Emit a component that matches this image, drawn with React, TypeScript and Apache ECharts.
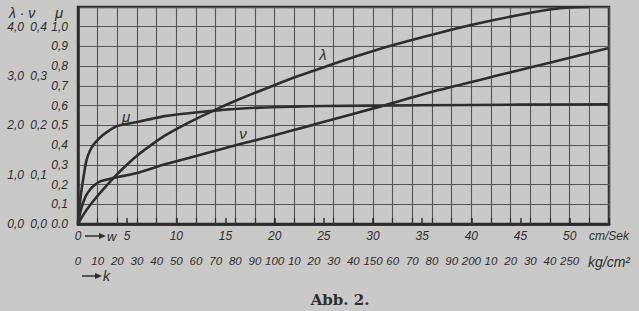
import React, { useEffect, useRef } from "react";
import * as echarts from "echarts";

// λ curve (w in cm/Sek, λ value)
const lambdaW = [0, 0.4, 0.85, 1.5, 2.2, 3.6, 4.7, 5.9, 7.5, 9, 11.5, 14.1, 16.5, 19.9, 22.4, 25, 28.3, 31.7, 36.8, 41, 45.9, 48, 50, 52];
const lambdaV = [0, 0.14, 0.28, 0.45, 0.62, 0.93, 1.15, 1.37, 1.61, 1.81, 2.08, 2.33, 2.54, 2.81, 3.0, 3.18, 3.4, 3.61, 3.88, 4.08, 4.28, 4.35, 4.39, 4.4];

// ν curve
const nuW = [0, 0.25, 0.5, 0.8, 1.2, 1.7, 2.2, 3.5, 5.9, 9, 12, 16.5, 20, 23.9, 30.7, 36.8, 43.9, 54];
const nuV = [0, 0.025, 0.042, 0.057, 0.069, 0.079, 0.086, 0.093, 0.103, 0.122, 0.138, 0.162, 0.18, 0.201, 0.238, 0.272, 0.307, 0.357];

// μ curve
const muW = [0, 0.15, 0.35, 0.6, 0.85, 1.2, 1.7, 2.5, 3.2, 3.9, 5, 5.9, 7.5, 9, 11, 13.4, 16, 18.5, 22, 25, 35, 45, 54];
const muV = [0, 0.09, 0.17, 0.25, 0.32, 0.37, 0.41, 0.45, 0.475, 0.495, 0.508, 0.516, 0.533, 0.548, 0.56, 0.572, 0.583, 0.59, 0.595, 0.598, 0.602, 0.605, 0.607];

// axes
const wMax = 54;
const wStep = 5;
const kMax = 270;
const kStep = 10;
const muMax = 1.1;
const lambdaMax = 4.4;
const nuMax = 0.44;
const wUnit = "cm/Sek";
const kUnit = "kg/cm²";
const title = "Abb. 2.";

const INK = "#2e2e2e";
const GRID = "#555555";
const BG = "#c9c9c7";
const FONT = "Liberation Sans";

const pairs = (xs: number[], ys: number[]) => xs.map((x, i) => [x, ys[i]]);
const comma = (v: number) => v.toFixed(1).replace(".", ",");

export default function App() {
  const ref = useRef<HTMLDivElement>(null);
  useEffect(() => {
    if (!ref.current) return;
    const chart = echarts.init(ref.current, null, { renderer: "svg" });
    const labelStyle = {
      fontFamily: FONT,
      fontStyle: "italic" as const,
      fontSize: 12,
      color: INK,
    };
    const lineStyle = { color: INK, width: 2.6 };
    const lineBase = {
      type: "line" as const,
      xAxisIndex: 0,
      smooth: 0.3,
      symbol: "none",
      lineStyle,
    };
    chart.setOption({
      animation: false,
      backgroundColor: BG,
      grid: {
        left: 78,
        top: 7,
        right: 30,
        bottom: 87,
        show: true,
        borderColor: INK,
        borderWidth: 2.5,
        backgroundColor: "transparent",
      },
      xAxis: [
        {
          type: "value",
          min: 0,
          max: wMax,
          interval: wStep,
          position: "bottom",
          axisLine: { show: true, lineStyle: { color: INK, width: 2.5 } },
          axisTick: { show: true, inside: true, length: 6, lineStyle: { color: INK, width: 1.5 } },
          splitLine: { show: false },
          axisLabel: {
            ...labelStyle,
            margin: 6,
            showMaxLabel: true,
            formatter: (v: number) =>
              v === wMax ? wUnit : Math.abs(v % wStep) < 1e-6 ? String(v) : "",
          },
        },
        {
          type: "value",
          min: 0,
          max: kMax,
          interval: kStep,
          position: "bottom",
          offset: 24,
          axisLine: { show: true, lineStyle: { color: INK, width: 2.5 } },
          axisTick: { show: true, inside: true, length: 6, lineStyle: { color: INK, width: 1.2 } },
          splitLine: { show: true, lineStyle: { color: GRID, width: 1.1 } },
          axisLabel: {
            ...labelStyle,
            fontSize: 11.5,
            margin: 7,
            showMaxLabel: true,
            formatter: (v: number) => {
              if (v === kMax) return "{u|" + kUnit + "}";
              if (v > 250) return "";
              if (v <= 100 || v % 50 === 0) return String(v);
              return String(v % 100);
            },
            rich: { u: { fontFamily: FONT, fontStyle: "italic", fontSize: 14, color: INK } },
          },
        },
      ],
      yAxis: [
        {
          type: "value",
          min: 0,
          max: muMax,
          interval: 0.1,
          position: "left",
          axisLine: { show: true, lineStyle: { color: INK, width: 2.5 } },
          axisTick: { show: false },
          splitLine: { show: true, lineStyle: { color: GRID, width: 1.1 } },
          axisLabel: {
            ...labelStyle,
            margin: 10,
            formatter: (v: number) => (v > 1.05 ? "" : v === 0 ? "0.0" : comma(v)),
          },
        },
        {
          type: "value",
          min: 0,
          max: lambdaMax,
          interval: 1,
          position: "left",
          offset: 46,
          axisLine: { show: false },
          axisTick: { show: false },
          splitLine: { show: false },
          axisLabel: {
            ...labelStyle,
            margin: 8,
            formatter: (v: number) => (Math.abs(v - Math.round(v)) > 1e-6 ? "" : comma(v)),
          },
        },
        {
          type: "value",
          min: 0,
          max: nuMax,
          interval: 0.1,
          position: "left",
          offset: 23,
          axisLine: { show: false },
          axisTick: { show: false },
          splitLine: { show: false },
          axisLabel: {
            ...labelStyle,
            margin: 8,
            formatter: (v: number) => (v > 0.405 ? "" : comma(v)),
          },
        },
      ],
      series: [
        { ...lineBase, name: "μ", yAxisIndex: 0, data: pairs(muW, muV) },
        { ...lineBase, name: "λ", yAxisIndex: 1, data: pairs(lambdaW, lambdaV) },
        { ...lineBase, name: "ν", yAxisIndex: 2, data: pairs(nuW, nuV) },
      ],
      graphic: [
        {
          type: "text",
          left: 9,
          top: 6,
          style: { text: "λ · ν", fontFamily: FONT, fontStyle: "italic", fontSize: 14, fill: INK },
        },
        {
          type: "text",
          left: 55,
          top: 5,
          style: { text: "μ", fontFamily: FONT, fontStyle: "italic", fontSize: 15, fill: INK },
        },
        {
          type: "text",
          x: 126,
          y: 116,
          style: { text: "μ", fontFamily: FONT, fontStyle: "italic", fontSize: 15, fill: INK, align: "center", verticalAlign: "middle" },
        },
        {
          type: "text",
          x: 323,
          y: 54,
          style: { text: "λ", fontFamily: FONT, fontStyle: "italic", fontSize: 15, fill: INK, align: "center", verticalAlign: "middle" },
        },
        {
          type: "text",
          x: 243,
          y: 133,
          style: { text: "ν", fontFamily: FONT, fontStyle: "italic", fontSize: 15, fill: INK, align: "center", verticalAlign: "middle" },
        },
        {
          type: "line",
          shape: { x1: 85, y1: 236, x2: 101, y2: 236 },
          style: { stroke: INK, lineWidth: 1.5 },
        },
        {
          type: "polygon",
          shape: { points: [[99, 233], [106, 236], [99, 239]] },
          style: { fill: INK },
        },
        {
          type: "text",
          x: 107,
          y: 236,
          style: { text: "w", fontFamily: FONT, fontStyle: "italic", fontSize: 13, fill: INK, verticalAlign: "middle" },
        },
        {
          type: "line",
          shape: { x1: 82, y1: 276, x2: 97, y2: 276 },
          style: { stroke: INK, lineWidth: 1.5 },
        },
        {
          type: "polygon",
          shape: { points: [[95, 273], [102, 276], [95, 279]] },
          style: { fill: INK },
        },
        {
          type: "text",
          x: 103,
          y: 276,
          style: { text: "k", fontFamily: FONT, fontStyle: "italic", fontSize: 14, fill: INK, verticalAlign: "middle" },
        },
        {
          type: "text",
          x: 340,
          y: 300,
          style: { text: title, fontFamily: "DejaVu Serif", fontWeight: "bold", fontSize: 15, fill: INK, align: "center", verticalAlign: "middle" },
        },
      ],
    });
    return () => chart.dispose();
  }, []);
  return (
    <div
      ref={ref}
      style={{ position: "absolute", left: 0, top: 0, width: 639, height: 311 }}
    />
  );
}
